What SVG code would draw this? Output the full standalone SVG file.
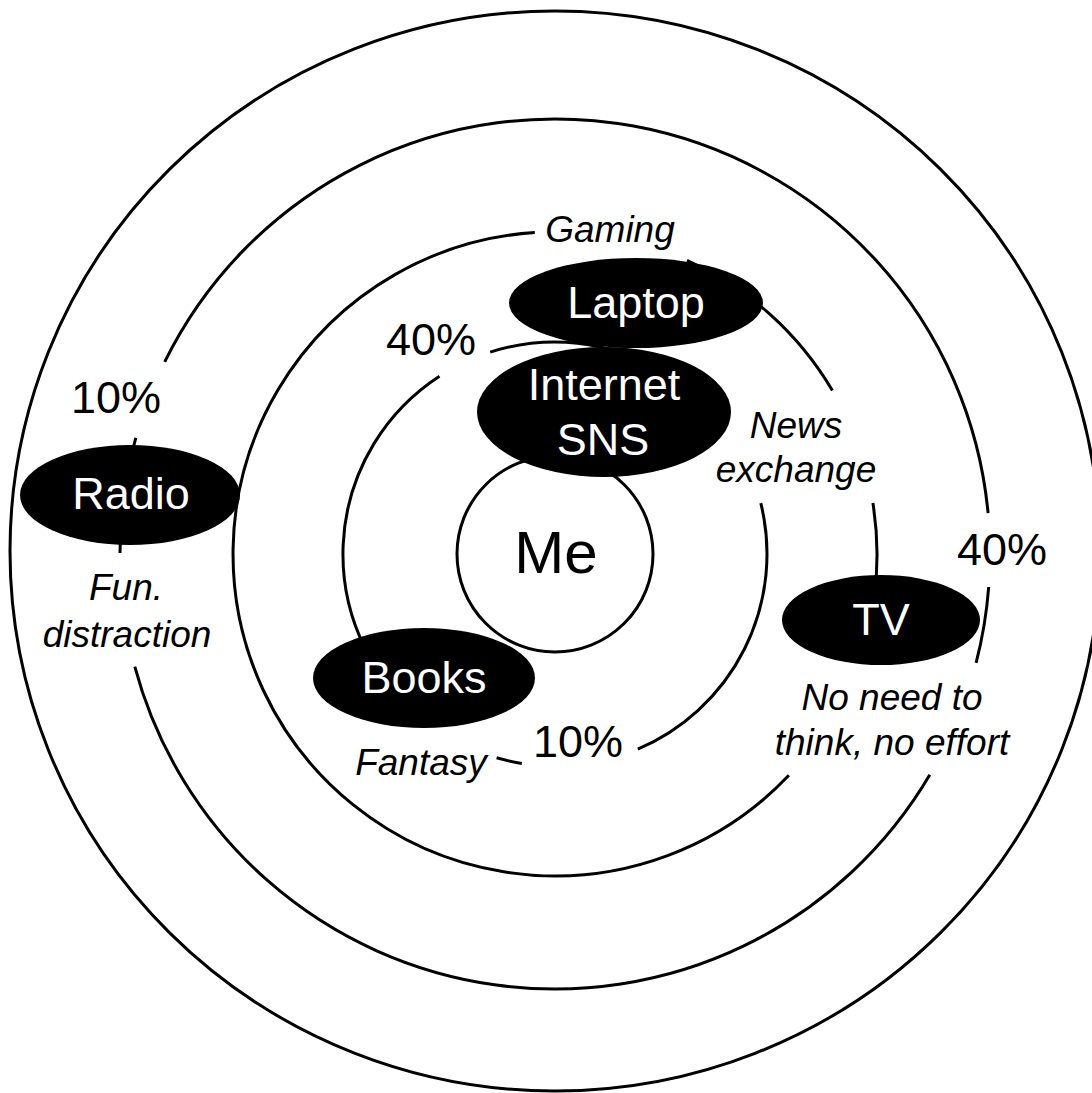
<svg xmlns="http://www.w3.org/2000/svg" width="1092" height="1093" viewBox="0 0 1092 1093">
  <style>
    .ring { fill: none; stroke: #000; stroke-width: 3; stroke-linecap: butt; }
    .node { fill: #000; }
    .ntext { fill: #fff; font-family: "Liberation Sans", Arial, sans-serif; font-size: 45px; text-anchor: middle; }
    .pct { fill: #000; font-family: "Liberation Sans", Arial, sans-serif; font-size: 45px; text-anchor: middle; }
    .lbl { fill: #000; font-family: "Liberation Sans", Arial, sans-serif; font-size: 37px; font-style: italic; text-anchor: middle; }
  </style>
  <rect width="1092" height="1093" fill="#fff"/>

  <g id="connectors">
    <!-- outer ring -->
    <ellipse class="ring" cx="555" cy="551" rx="545" ry="540"/>
    <!-- ring 2 (r=435) -->
    <path class="ring" d="M120,553 A435,435 0 0 1 135.8,437.8"/>
    <path class="ring" d="M164.7,361.9 A435,435 0 0 1 988.1,513.1"/>
    <path class="ring" d="M988.7,587 A435,435 0 0 1 976.1,662.9"/>
    <path class="ring" d="M929.8,774.8 A435,435 0 0 1 134.8,666.6"/>
    <!-- ring 3 (r=322) -->
    <path class="ring" d="M788.9,775.3 A322,322 0 1 1 534.8,232.6"/>
    <path class="ring" d="M687,260.3 A322,322 0 0 1 832.4,390.6"/>
    <path class="ring" d="M872.9,503.1 A322,322 0 0 1 865.3,640.1"/>
    <!-- ring 4 (r=212) -->
    <path class="ring" d="M424.5,721.1 A212,212 0 0 1 439.5,376.2"/>
    <path class="ring" d="M490.2,352.1 A212,212 0 0 1 661,370.4"/>
    <path class="ring" d="M760.8,503.1 A212,212 0 0 1 637.8,749.1"/>
    <path class="ring" d="M521.8,763.4 A212,212 0 0 1 496.6,757.8"/>
  </g>

  <g id="me">
    <circle cx="555" cy="554" r="98" fill="#fff" stroke="#000" stroke-width="3"/>
    <text x="556" y="573" font-family="Liberation Sans, Arial, sans-serif" font-size="60" text-anchor="middle">Me</text>
  </g>

  <g id="laptop">
    <ellipse class="node" cx="636" cy="303" rx="127" ry="45"/>
    <text class="ntext" x="636" y="318">Laptop</text>
  </g>

  <g id="internet-sns">
    <ellipse class="node" cx="604" cy="412" rx="127" ry="65"/>
    <text class="ntext" x="604" y="400">Internet</text>
    <text class="ntext" x="603" y="455">SNS</text>
  </g>

  <g id="radio">
    <ellipse class="node" cx="130" cy="495" rx="110" ry="50"/>
    <text class="ntext" x="131" y="509">Radio</text>
  </g>

  <g id="books">
    <ellipse class="node" cx="424" cy="678" rx="111" ry="50"/>
    <text class="ntext" x="424" y="693">Books</text>
  </g>

  <g id="tv">
    <ellipse class="node" cx="881" cy="620" rx="99" ry="45"/>
    <text class="ntext" x="881" y="635">TV</text>
  </g>

  <g id="labels">
    <text class="pct" x="431" y="355">40%</text>
    <text class="pct" x="116" y="413">10%</text>
    <text class="pct" x="578" y="757">10%</text>
    <text class="pct" x="1002" y="565">40%</text>
    <text class="lbl" x="610" y="242">Gaming</text>
    <text class="lbl" x="796" y="438">News</text>
    <text class="lbl" x="796" y="482">exchange</text>
    <text class="lbl" x="892" y="710">No need to</text>
    <text class="lbl" x="892" y="755">think, no effort</text>
    <text class="lbl" x="126" y="600">Fun.</text>
    <text class="lbl" x="127" y="647">distraction</text>
    <text class="lbl" x="421" y="775">Fantasy</text>
  </g>
</svg>
